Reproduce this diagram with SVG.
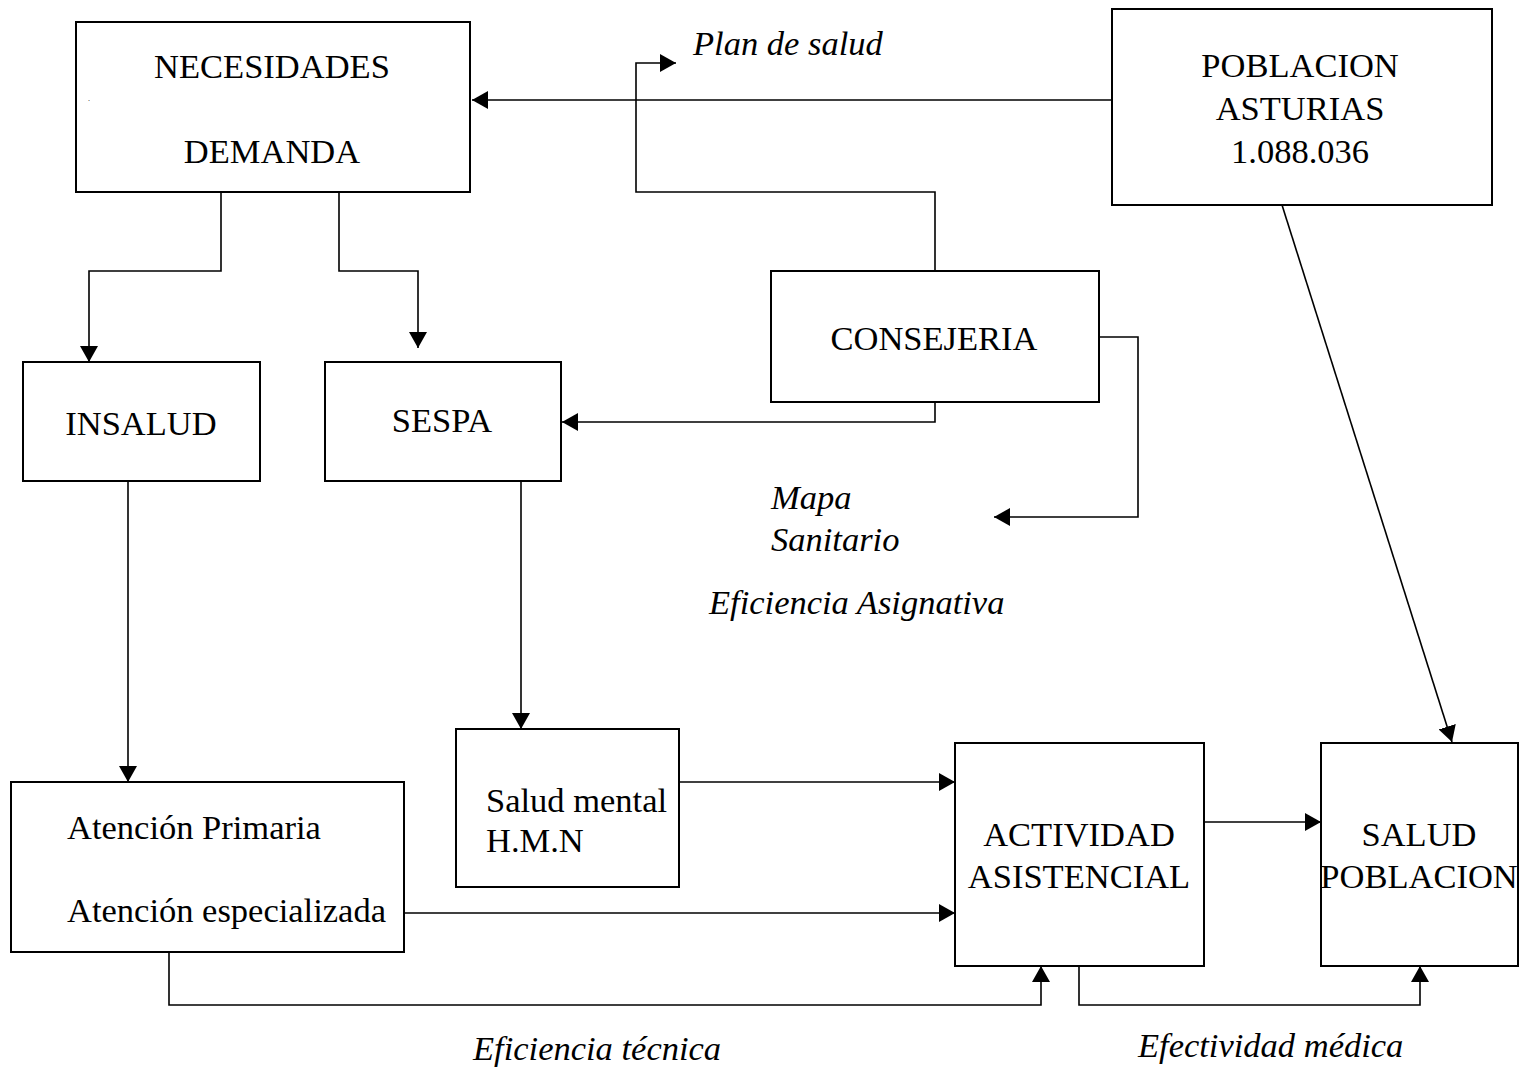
<svg xmlns="http://www.w3.org/2000/svg" width="1528" height="1072" viewBox="0 0 1528 1072">
<style>
.box{fill:#fff;stroke:#000;stroke-width:2}
.t{font-family:"Liberation Serif","Times New Roman",serif;font-size:34.5px;fill:#000}
.c{text-anchor:middle}
.i{font-style:italic}
.ln{fill:none;stroke:#000;stroke-width:1.6}
</style>
<defs>
<marker id="ah" markerUnits="userSpaceOnUse" markerWidth="18" markerHeight="18" refX="16" refY="9" orient="auto">
<path d="M0,0 L16,9 L0,18 Z" fill="#000"/>
</marker>
</defs>
<rect width="1528" height="1072" fill="#fff"/>
<g id="connectors">
<path class="ln" d="M1112,100 H472" marker-end="url(#ah)"/>
<path class="ln" d="M935,271 V192 H636 V63 H676" marker-end="url(#ah)"/>
<path class="ln" d="M221,192 V271 H89 V362" marker-end="url(#ah)"/>
<path class="ln" d="M339,192 V271 H418 V348" marker-end="url(#ah)"/>
<path class="ln" d="M935,402 V422 H562" marker-end="url(#ah)"/>
<path class="ln" d="M1099,337 H1138 V517 H994" marker-end="url(#ah)"/>
<path class="ln" d="M1282,205 L1452,742" marker-end="url(#ah)"/>
<path class="ln" d="M128,481 V782" marker-end="url(#ah)"/>
<path class="ln" d="M521,481 V729" marker-end="url(#ah)"/>
<path class="ln" d="M679,782 H955" marker-end="url(#ah)"/>
<path class="ln" d="M404,913 H955" marker-end="url(#ah)"/>
<path class="ln" d="M1204,822 H1321" marker-end="url(#ah)"/>
<path class="ln" d="M169,952 V1005 H1041 V966" marker-end="url(#ah)"/>
<path class="ln" d="M1079,966 V1005 H1420 V966" marker-end="url(#ah)"/>
</g>
<g id="necesidades">
<rect class="box" x="76" y="22" width="394" height="170"/>
<text class="t c" x="272" y="78">NECESIDADES</text>
<text class="t c" x="272" y="163">DEMANDA</text>
<text class="t" x="88" y="101" style="font-size:8px">.</text>
</g>
<g id="poblacion">
<rect class="box" x="1112" y="9" width="380" height="196"/>
<text class="t c" x="1300" y="77">POBLACION</text>
<text class="t c" x="1300" y="120">ASTURIAS</text>
<text class="t c" x="1300" y="163">1.088.036</text>
</g>
<g id="consejeria">
<rect class="box" x="771" y="271" width="328" height="131"/>
<text class="t c" x="934" y="350">CONSEJERIA</text>
</g>
<g id="insalud">
<rect class="box" x="23" y="362" width="237" height="119"/>
<text class="t c" x="141" y="435">INSALUD</text>
</g>
<g id="sespa">
<rect class="box" x="325" y="362" width="236" height="119"/>
<text class="t c" x="442" y="432">SESPA</text>
</g>
<g id="salud-mental">
<rect class="box" x="456" y="729" width="223" height="158"/>
<text class="t" x="486" y="812">Salud mental</text>
<text class="t" x="486" y="852">H.M.N</text>
</g>
<g id="atencion">
<rect class="box" x="11" y="782" width="393" height="170"/>
<text class="t" x="67" y="839">Atención Primaria</text>
<text class="t" x="67" y="922">Atención especializada</text>
</g>
<g id="actividad">
<rect class="box" x="955" y="743" width="249" height="223"/>
<text class="t c" x="1079" y="846">ACTIVIDAD</text>
<text class="t c" x="1079" y="888">ASISTENCIAL</text>
</g>
<g id="salud-poblacion">
<rect class="box" x="1321" y="743" width="197" height="223"/>
<text class="t c" x="1419" y="846">SALUD</text>
<text class="t c" x="1419" y="888">POBLACION</text>
</g>
<g id="labels">
<text class="t i" x="693" y="55">Plan de salud</text>
<text class="t i" x="771" y="509">Mapa</text>
<text class="t i" x="771" y="551">Sanitario</text>
<text class="t i" x="709" y="614">Eficiencia Asignativa</text>
<text class="t i" x="473" y="1060">Eficiencia técnica</text>
<text class="t i" x="1138" y="1057">Efectividad médica</text>
</g>
</svg>
